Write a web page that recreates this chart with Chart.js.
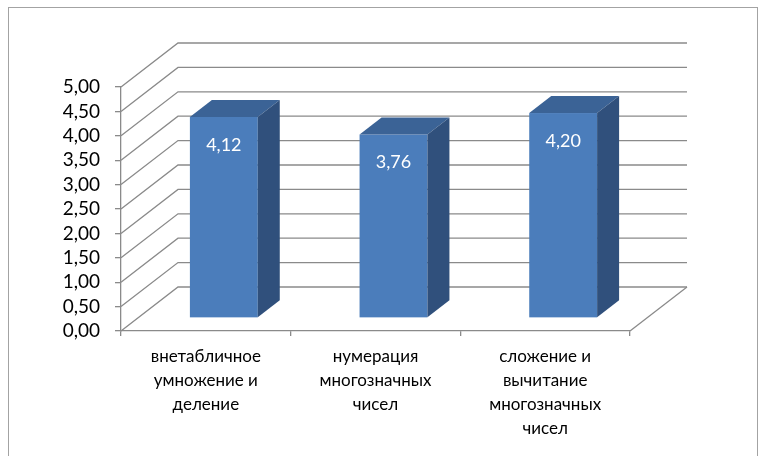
<!DOCTYPE html>
<html>
<head>
<meta charset="utf-8">
<script src="https://cdn.jsdelivr.net/npm/chart.js@4"></script>
<style>
  html, body { margin: 0; padding: 0; background: #fff; }
  #wrap { position: relative; width: 763px; height: 456px; overflow: hidden; }
  #frame { position: absolute; left: 8px; top: 7px; width: 748px; height: 470px; border: 1px solid #a3a3a3; }
  #myChart { position: absolute; left: 0; top: 0; }
</style>
</head>
<body>
<div id="wrap">
  <div id="frame"></div>
  <canvas id="myChart" width="763" height="456"></canvas>
</div>
<script>
// data
var categories = [
    ['внетабличное', 'умножение и', 'деление'],
    ['нумерация', 'многозначных', 'чисел'],
    ['сложение и', 'вычитание', 'многозначных', 'чисел']
];
var scores = [4.12, 3.76, 4.20];
var yMin = 0;
var yMax = 5;
var yStep = 0.5;

// pseudo 3d look
var wallDepth = [57, -44];   // back wall offset from the front axis
var barShift = [18, -13];    // bars stand a bit behind the front edge
var barDepth = [22, -17];
var gridColor = '#8a8a8a';

function fmt(v){
    return v.toFixed(2).replace('.', ',');
}

var box3d = {
    id: 'box3d',
    beforeDatasetsDraw: function(chart){
        var ctx = chart.ctx;
        var y = chart.scales.y;
        var area = chart.chartArea;
        ctx.save();
        ctx.strokeStyle = gridColor;
        ctx.lineWidth = 1.3;
        for (var v = yMin; v <= yMax + 1e-9; v += yStep){
            var py = y.getPixelForValue(v);
            ctx.beginPath();
            ctx.moveTo(area.left, py);
            ctx.lineTo(area.left + wallDepth[0], py + wallDepth[1]);
            ctx.lineTo(area.right + wallDepth[0], py + wallDepth[1]);
            ctx.stroke();
        }
        // right edge of the floor
        var p0 = y.getPixelForValue(yMin);
        ctx.beginPath();
        ctx.moveTo(area.right, p0);
        ctx.lineTo(area.right + wallDepth[0], p0 + wallDepth[1]);
        ctx.stroke();
        ctx.restore();
    },
    afterDatasetsDraw: function(chart){
        var ctx = chart.ctx;
        var meta = chart.getDatasetMeta(0);
        ctx.save();
        meta.data.forEach(function(bar, i){
            var l = bar.x - bar.width / 2 + barShift[0];
            var r = bar.x + bar.width / 2 + barShift[0];
            var t = bar.y + barShift[1];
            var b = bar.base + barShift[1];
            var dx = barDepth[0], dy = barDepth[1];

            ctx.fillStyle = '#4b7dbb';
            ctx.fillRect(l, t, r - l, b - t);

            ctx.fillStyle = '#3b6396';
            ctx.beginPath();
            ctx.moveTo(l, t);
            ctx.lineTo(l + dx, t + dy);
            ctx.lineTo(r + dx, t + dy);
            ctx.lineTo(r, t);
            ctx.closePath();
            ctx.fill();

            ctx.fillStyle = '#30507c';
            ctx.beginPath();
            ctx.moveTo(r, t);
            ctx.lineTo(r + dx, t + dy);
            ctx.lineTo(r + dx, b + dy);
            ctx.lineTo(r, b);
            ctx.closePath();
            ctx.fill();

            ctx.fillStyle = '#ffffff';
            ctx.font = '18px Lato';
            ctx.textAlign = 'center';
            ctx.textBaseline = 'middle';
            ctx.fillText(fmt(scores[i]), (l + r) / 2, t + 28);
        });
        ctx.restore();
    }
};

const data = {
    labels: categories,
    datasets: [{
        data: scores,
        backgroundColor: 'rgba(0,0,0,0)',
        borderWidth: 0,
        categoryPercentage: 0.4,
        barPercentage: 1.0
    }]
};

const config = {
    type: 'bar',
    data: data,
    plugins: [box3d],
    options: {
        responsive: false,
        animation: false,
        devicePixelRatio: 1,
        layout: { padding: { top: 87, right: 133, bottom: 0, left: 0 } },
        plugins: {
            legend: { display: false },
            tooltip: { enabled: false }
        },
        scales: {
            x: {
                afterFit: function(s){ s.height = 125; },
                grid: {
                    offset: true,
                    drawOnChartArea: false,
                    tickLength: 5,
                    color: gridColor,
                    lineWidth: 1.3
                },
                border: { color: gridColor, width: 1.3 },
                ticks: {
                    color: '#000',
                    padding: 9,
                    maxRotation: 0,
                    autoSkip: false,
                    font: { family: 'Lato', size: 17, lineHeight: '24px' }
                }
            },
            y: {
                min: yMin,
                max: yMax,
                afterFit: function(s){ s.width = 121; },
                grid: {
                    drawOnChartArea: false,
                    tickLength: 6,
                    color: gridColor,
                    lineWidth: 1.3
                },
                border: { color: gridColor, width: 1.3 },
                ticks: {
                    stepSize: yStep,
                    autoSkip: false,
                    color: '#000',
                    padding: 15,
                    font: { family: 'Lato', size: 19, lineHeight: 1.0 },
                    callback: function(v){ return fmt(v); }
                }
            }
        }
    }
};

const myChart = new Chart(document.getElementById('myChart'), config);
</script>
</body>
</html>
